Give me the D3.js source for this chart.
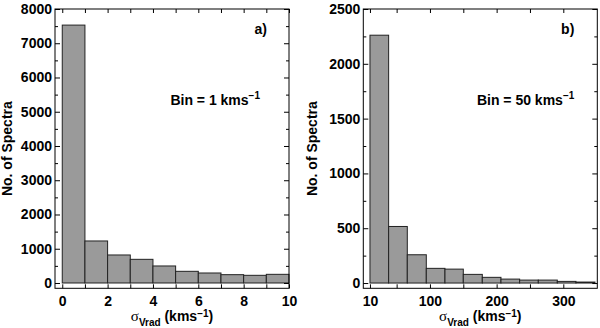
<!DOCTYPE html>
<html>
<head>
    <script src="https://cdnjs.cloudflare.com/ajax/libs/d3/7.8.5/d3.min.js"></script>
    <style>
        body { margin: 0; background: #fff; }
        text { font-family: 'Liberation Sans', Arial, sans-serif; font-weight: bold; }
        .sym { font-family: 'Liberation Serif', 'DejaVu Serif', serif; font-weight: normal; }
    </style>
</head>
<body>
    <div id="root"></div>
    <script>
        // panel a) : bin = 1 km/s
        const edgesA = [0, 1, 2, 3, 4, 5, 6, 7, 8, 9, 10]
        const countsA = [7530, 1227, 818, 691, 497, 341, 292, 243, 224, 253]
        const xTicksA = [0, 2, 4, 6, 8, 10]
        const xMinorA = [1, 3, 5, 7, 9]
        const yTicksA = [0, 1000, 2000, 3000, 4000, 5000, 6000, 7000, 8000]
        const yMinorA = [500, 1500, 2500, 3500, 4500, 5500, 6500, 7500]

        // panel b) : bin = 50 km/s
        const edgesB = [10, 38, 66, 94.5, 122.5, 150, 178.5, 206.5, 234.5, 262.5, 291, 319, 347.5]
        const countsB = [2261, 516, 258, 134, 127, 79, 52, 36, 27, 27, 15, 9]
        const xTicksB = [10, 100, 200, 300]
        const xMinorB = [50, 150, 250]
        const yTicksB = [0, 500, 1000, 1500, 2000, 2500]
        const yMinorB = [250, 750, 1250, 1750, 2250]

        const W = 600, H = 328

        const svg = d3.select("#root").append("svg")
            .attr("width", W)
            .attr("height", H)
        svg.append("rect").attr("width", W).attr("height", H).attr("fill", "#fff")

        function drawPanel(p) {
            const g = svg.append("g")
            const x = d3.scaleLinear().domain(p.xDomain).range([p.left, p.right])
            const y = d3.scaleLinear().domain(p.yDomain).range([p.bottom, p.top])

            g.selectAll("rect.bar")
                .data(p.counts)
                .enter()
                .append("rect")
                .attr("class", "bar")
                .attr("x", (d, i) => x(p.edges[i]))
                .attr("width", (d, i) => x(p.edges[i + 1]) - x(p.edges[i]))
                .attr("y", d => y(d))
                .attr("height", d => y(0) - y(d))
                .attr("fill", "#9a9a9a")
                .attr("stroke", "#222")
                .attr("stroke-width", 1)

            const style = sel => {
                sel.select(".domain").remove()
                sel.attr("font-size", 14)
                    .attr("font-family", "'Liberation Sans', Arial, sans-serif")
                    .attr("font-weight", "bold")
                sel.selectAll("line").attr("stroke", "#000")
                sel.selectAll("text").attr("fill", "#000")
            }
            const fmt = d3.format("d")

            // bottom / top
            g.append("g").attr("transform", `translate(0,${p.bottom})`)
                .call(d3.axisBottom(x).tickValues(p.xTicks).tickFormat(fmt).tickSizeInner(-4).tickSizeOuter(0).tickPadding(7.5))
                .call(style)
            g.append("g").attr("transform", `translate(0,${p.bottom})`)
                .call(d3.axisBottom(x).tickValues(p.xMinor).tickSizeInner(-4).tickSizeOuter(0).tickFormat(""))
                .call(style)
            g.append("g").attr("transform", `translate(0,${p.top})`)
                .call(d3.axisTop(x).tickValues(p.xTicks.concat(p.xMinor)).tickSizeInner(-4).tickSizeOuter(0).tickFormat(""))
                .call(style)

            // left / right
            g.append("g").attr("transform", `translate(${p.left},0)`)
                .call(d3.axisLeft(y).tickValues(p.yTicks).tickFormat(fmt).tickSizeInner(-5).tickSizeOuter(0).tickPadding(3))
                .call(style)
            g.append("g").attr("transform", `translate(${p.left},0)`)
                .call(d3.axisLeft(y).tickValues(p.yMinor).tickSizeInner(-3).tickSizeOuter(0).tickFormat(""))
                .call(style)
            g.append("g").attr("transform", `translate(${p.right},0)`)
                .call(d3.axisRight(y).tickValues(p.yTicks).tickSizeInner(-5).tickSizeOuter(0).tickFormat(""))
                .call(style)
            g.append("g").attr("transform", `translate(${p.right},0)`)
                .call(d3.axisRight(y).tickValues(p.yMinor).tickSizeInner(-3).tickSizeOuter(0).tickFormat(""))
                .call(style)

            // frame
            g.append("rect")
                .attr("x", p.left).attr("y", p.top)
                .attr("width", p.right - p.left).attr("height", p.bottom - p.top)
                .attr("fill", "none").attr("stroke", "#000").attr("stroke-width", 1)

            // panel letter + bin text
            g.append("text").attr("x", p.right - p.letterOff).attr("y", 34)
                .attr("text-anchor", "end").attr("font-size", 14).text(p.letter)

            const bin = g.append("text").attr("x", p.right - p.binOff).attr("y", 105)
                .attr("text-anchor", "end").attr("font-size", 14)
            bin.append("tspan").text(p.binText + " kms")
            bin.append("tspan").attr("font-size", 10).attr("dy", -6).text("\u22121")

            // y title
            g.append("text")
                .attr("transform", `translate(${p.left - p.yTitleOff},${(p.top + p.bottom) / 2}) rotate(-90)`)
                .attr("text-anchor", "middle").attr("font-size", 14)
                .text("No. of Spectra")

            // x title
            const xt = g.append("text")
                .attr("x", (p.left + p.right) / 2).attr("y", 321)
                .attr("text-anchor", "middle").attr("font-size", 14)
            xt.append("tspan").attr("class", "sym").attr("font-size", 15).text("\u03c3")
            xt.append("tspan").attr("font-size", 10).attr("dy", 5).text("Vrad")
            xt.append("tspan").attr("dy", -5).text(" (kms")
            xt.append("tspan").attr("font-size", 10).attr("dy", -4).text("\u22121")
            xt.append("tspan").attr("dy", 4).text(")")
        }

        drawPanel({
            left: 55, right: 289, top: 9, bottom: 288.3,
            xDomain: [-0.32, 10], yDomain: [-155, 8000],
            edges: edgesA, counts: countsA,
            xTicks: xTicksA, xMinor: xMinorA, yTicks: yTicksA, yMinor: yMinorA,
            letter: "a)", letterOff: 22, binText: "Bin = 1", binOff: 29, yTitleOff: 43.5
        })

        drawPanel({
            left: 363.3, right: 597.3, top: 9, bottom: 288.3,
            xDomain: [0, 351], yDomain: [-48, 2500],
            edges: edgesB, counts: countsB,
            xTicks: xTicksB, xMinor: xMinorB, yTicks: yTicksB, yMinor: yMinorB,
            letter: "b)", letterOff: 23, binText: "Bin = 50", binOff: 23, yTitleOff: 46.3
        })
    </script>
</body>
</html>
